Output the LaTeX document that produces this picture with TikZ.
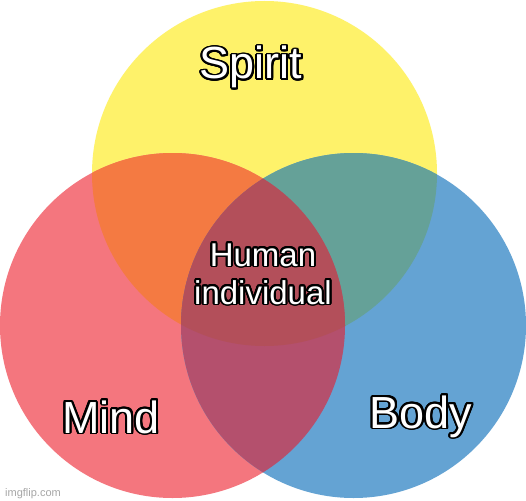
\documentclass[tikz,border=0pt]{standalone}
\usepackage{fontspec}
\setmainfont{Liberation Sans}
\usepackage{contour}
\contourlength{1.9pt}
\contournumber{24}
\definecolor{cy}{HTML}{FEF26A}
\definecolor{cr}{HTML}{F4767E}
\definecolor{cb}{HTML}{64A3D3}
\definecolor{cyr}{HTML}{F47A42}
\definecolor{cyb}{HTML}{65A198}
\definecolor{crb}{HTML}{B4506D}
\definecolor{cyrb}{HTML}{B34F5A}
\tikzset{
  biglabel/.style={text=white,font=\fontsize{45}{50}\selectfont,inner sep=0pt,anchor=base},
  midlabel/.style={text=white,font=\fontsize{33}{38}\selectfont,inner sep=0pt,align=center,anchor=base},
}
\begin{document}
\begin{tikzpicture}[x=1pt,y=-1pt]
\useasboundingbox (0,0) rectangle (526,500);
\fill[white] (0,0) rectangle (526,500);
\def\Ycirc{(264.5,173.5) circle[radius=172.5]}
\def\Rcirc{(172.5,325.5) circle[radius=172.5]}
\def\Bcirc{(353.5,325.5) circle[radius=172.5]}
\fill[cy] \Ycirc;
\fill[cr] \Rcirc;
\fill[cb] \Bcirc;
\begin{scope}
  \clip \Ycirc;
  \fill[cyr] \Rcirc;
  \fill[cyb] \Bcirc;
\end{scope}
\begin{scope}
  \clip \Rcirc;
  \fill[crb] \Bcirc;
\end{scope}
\begin{scope}
  \clip \Ycirc;
  \clip \Rcirc;
  \fill[cyrb] \Bcirc;
\end{scope}
\node[biglabel] (spirit) at (251,79) {\contour{black}{Spirit}};
\node[biglabel] (mind) at (111,433) {\contour{black}{Mind}};
\node[biglabel] (body) at (421,428) {\contour{black}{Body}};
\node[midlabel] (human) at (263,266) {\contour{black}{Human}};
\node[midlabel] (indiv) at (263,304) {\contour{black}{individual}};
\node[text=black!35,font=\fontsize{11}{12}\selectfont,anchor=base west,inner sep=0pt] (wm) at (5,496) {imgflip.com};
\end{tikzpicture}
\end{document}
